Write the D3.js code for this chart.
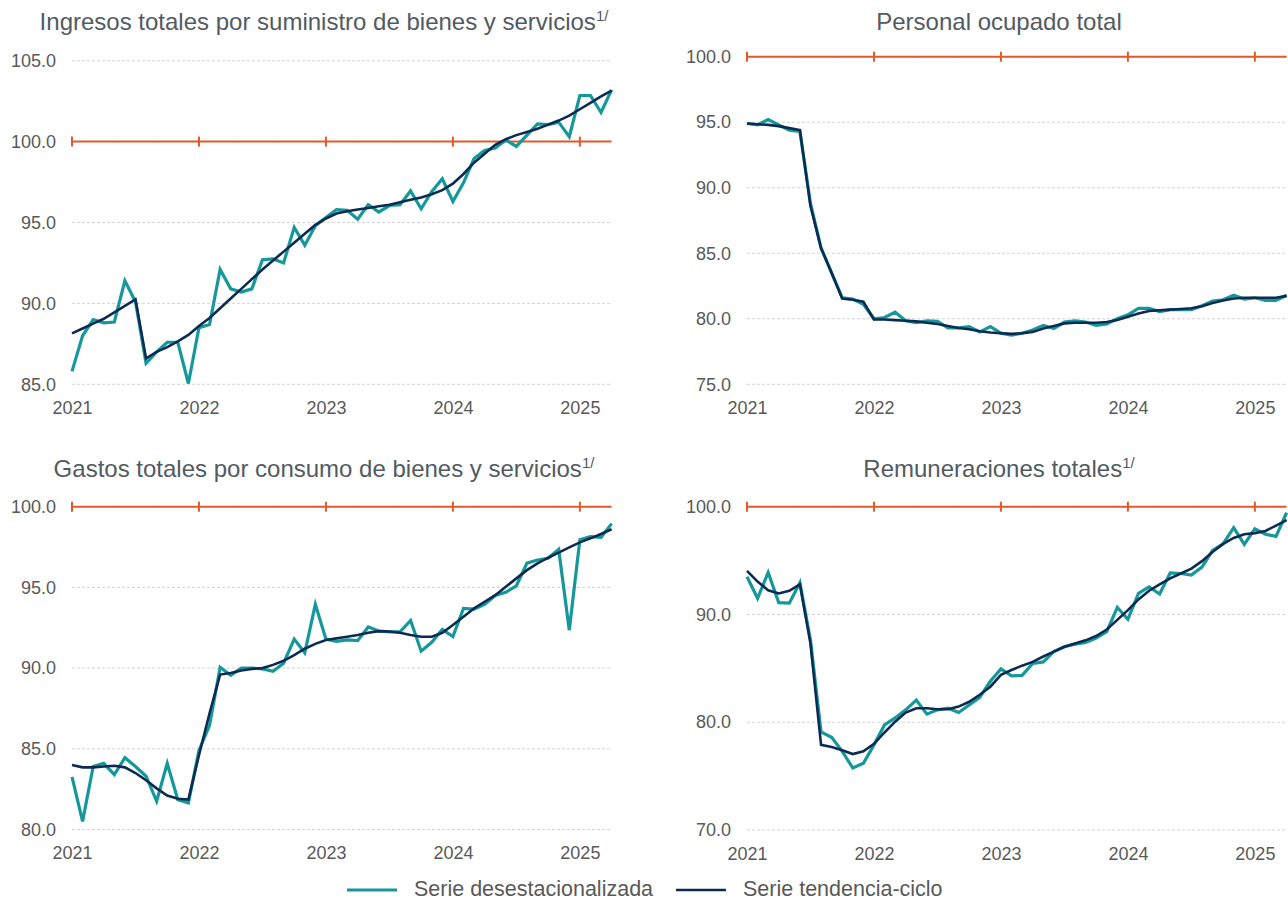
<!DOCTYPE html>
<html lang="es">
<head>
  <meta charset="UTF-8">
  <style>
    body { margin: 0; background: #ffffff; }
    svg { font-family: "Liberation Sans", Arial, sans-serif; background: #ffffff; }
    .title { font-size: 24px; fill: #525a62; text-anchor: middle; }
    .sup { font-size: 15px; }
    .axis text { font-size: 18px; fill: #595959; }
    .grid { stroke: #d4d4d4; stroke-width: 1; stroke-dasharray: 3,2; }
    .ref { stroke: #e2592a; stroke-width: 2; fill: none; }
    .des { stroke: #16989a; stroke-width: 3.2; fill: none; stroke-linejoin: miter; }
    .ten { stroke: #0b2b52; stroke-width: 2.6; fill: none; }
    .legend { font-size: 21.5px; fill: #595959; }
  </style>
</head>
<body>
<script src="https://d3js.org/d3.v7.min.js"></script>
<svg></svg>
<script>

// year labels, one every 12 months (Jan 2021 .. Apr 2025 = 52 months)
const years = ["2021", "2022", "2023", "2024", "2025"];

// Ingresos totales por suministro de bienes y servicios
const ingresosDes = [85.8, 88.0, 89.0, 88.8, 88.85, 91.4, 90.1, 86.3, 87.0, 87.6, 87.6, 85.05,
  88.5, 88.7, 92.1, 90.9, 90.7, 90.9, 92.7, 92.75, 92.5, 94.7, 93.6, 94.8,
  95.3, 95.8, 95.75, 95.2, 96.1, 95.65, 96.05, 96.1, 96.95, 95.85, 96.9, 97.7,
  96.3, 97.45, 98.95, 99.45, 99.6, 100.1, 99.7, 100.4, 101.1, 101.05, 101.2, 100.3,
  102.85, 102.85, 101.8, 103.2];
const ingresosTen = [88.15, 88.45, 88.75, 89.05, 89.45, 89.85, 90.25, 86.6, 87.0, 87.3, 87.65, 88.05,
  88.6, 89.1, 89.7, 90.3, 90.9, 91.5, 92.1, 92.65, 93.2, 93.75, 94.3, 94.85,
  95.25, 95.55, 95.7, 95.8, 95.9, 96.0, 96.1, 96.25, 96.4, 96.55, 96.75, 97.0,
  97.4, 98.0, 98.7, 99.25, 99.8, 100.15, 100.4, 100.6, 100.8, 101.05, 101.3, 101.6,
  102.0, 102.4, 102.8, 103.15];
const ingresosTicks = [85, 90, 95, 100, 105];

// Personal ocupado total
const personalDes = [94.9, 94.8, 95.2, 94.8, 94.4, 94.3, 88.8, 85.4, 83.5, 81.6, 81.5, 81.1,
  80.0, 80.1, 80.5, 79.85, 79.7, 79.85, 79.8, 79.3, 79.3, 79.4, 79.0, 79.4,
  78.9, 78.75, 78.9, 79.15, 79.5, 79.25, 79.75, 79.85, 79.75, 79.5, 79.6, 80.0,
  80.3, 80.8, 80.8, 80.55, 80.7, 80.7, 80.7, 81.0, 81.35, 81.45, 81.8, 81.5,
  81.6, 81.4, 81.4, 81.8];
const personalTen = [94.9, 94.85, 94.8, 94.7, 94.55, 94.4, 88.6, 85.4, 83.5, 81.55, 81.45, 81.3,
  79.95, 79.95, 79.9, 79.85, 79.8, 79.7, 79.6, 79.45, 79.3, 79.2, 79.05, 78.95,
  78.9, 78.85, 78.9, 79.0, 79.25, 79.45, 79.65, 79.7, 79.7, 79.7, 79.75, 79.9,
  80.15, 80.4, 80.6, 80.65, 80.7, 80.75, 80.8, 80.95, 81.2, 81.4, 81.55, 81.6,
  81.6, 81.6, 81.6, 81.75];
const personalTicks = [75, 80, 85, 90, 95, 100];

// Gastos totales por consumo de bienes y servicios
const gastosDes = [83.26, 80.5, 83.9, 84.1, 83.4, 84.45, 83.9, 83.3, 81.75, 84.1, 81.85, 81.65,
  84.9, 86.45, 90.05, 89.55, 90.0, 90.0, 89.95, 89.8, 90.3, 91.8, 90.95, 93.95,
  91.8, 91.65, 91.75, 91.7, 92.55, 92.3, 92.25, 92.25, 92.95, 91.05, 91.6, 92.4,
  91.95, 93.7, 93.65, 93.95, 94.5, 94.7, 95.1, 96.5, 96.7, 96.8, 97.35, 92.35,
  97.95, 98.15, 98.1, 98.95];
const gastosTen = [84.0, 83.85, 83.85, 83.9, 83.95, 83.85, 83.5, 83.05, 82.55, 82.1, 81.9, 81.85,
  84.6, 87.2, 89.6, 89.7, 89.85, 89.95, 90.0, 90.2, 90.45, 90.8, 91.2, 91.5,
  91.74, 91.84, 91.94, 92.05, 92.19, 92.29, 92.27, 92.19, 92.05, 91.94, 91.94, 92.19,
  92.67, 93.18, 93.7, 94.11, 94.52, 95.04, 95.56, 96.07, 96.49, 96.84, 97.15, 97.48,
  97.79, 98.04, 98.31, 98.6];
const gastosTicks = [80, 85, 90, 95, 100];

// Remuneraciones totales
const remunDes = [93.5, 91.5, 93.9, 91.1, 91.05, 92.95, 87.6, 79.1, 78.6, 77.3, 75.75, 76.2,
  77.9, 79.75, 80.4, 81.15, 82.05, 80.75, 81.15, 81.3, 80.9, 81.6, 82.3, 83.8,
  84.95, 84.3, 84.35, 85.45, 85.6, 86.55, 87.0, 87.25, 87.4, 87.8, 88.4, 90.65,
  89.55, 91.95, 92.55, 91.9, 93.85, 93.8, 93.65, 94.4, 95.95, 96.55, 98.05, 96.5,
  97.95, 97.45, 97.25, 99.45];
const remunTen = [94.05, 93.05, 92.25, 91.95, 92.2, 92.8, 87.3, 77.9, 77.7, 77.4, 77.05, 77.3,
  78.0, 79.05, 80.05, 80.9, 81.3, 81.3, 81.2, 81.2, 81.45, 81.9, 82.55, 83.3,
  84.4, 84.85, 85.25, 85.6, 86.1, 86.55, 87.0, 87.3, 87.6, 88.0, 88.6, 89.5,
  90.4, 91.4, 92.2, 92.8, 93.35, 93.8, 94.25, 94.95, 95.8, 96.55, 97.1, 97.45,
  97.55, 97.75, 98.25, 98.75];
const remunTicks = [70, 80, 90, 100];

const legendLabels = ["Serie desestacionalizada", "Serie tendencia-ciclo"];

const w = 1288;
const h = 901;
const plotW = 539.6;

const svg = d3.select("svg")
              .attr("width", w)
              .attr("height", h);

// panel layout
const panels = [
  {title: "Ingresos totales por suministro de bienes y servicios", sup: true,
   des: ingresosDes, ten: ingresosTen, ticks: ingresosTicks,
   left: 72, top: 60.7, bottom: 384.3, titleY: 30},
  {title: "Personal ocupado total", sup: false,
   des: personalDes, ten: personalTen, ticks: personalTicks,
   left: 747, top: 56.7, bottom: 384.3, titleY: 30},
  {title: "Gastos totales por consumo de bienes y servicios", sup: true,
   des: gastosDes, ten: gastosTen, ticks: gastosTicks,
   left: 72, top: 506.7, bottom: 829.5, titleY: 477},
  {title: "Remuneraciones totales", sup: true,
   des: remunDes, ten: remunTen, ticks: remunTicks,
   left: 747, top: 506.7, bottom: 830, titleY: 477}
];

panels.forEach(p => {
  const n = p.des.length;
  const x = d3.scaleLinear()
              .domain([0, n - 1])
              .range([p.left, p.left + plotW]);
  const y = d3.scaleLinear()
              .domain(d3.extent(p.ticks))
              .range([p.bottom, p.top]);
  const yearIdx = years.map((d, i) => i * 12);

  const g = svg.append("g");

  // title
  const t = g.append("text")
             .attr("class", "title")
             .attr("x", p.left + 252)
             .attr("y", p.titleY)
             .text(p.title);
  if (p.sup) {
    t.append("tspan")
     .attr("class", "sup")
     .attr("dy", -9)
     .text("1/");
  }

  // gridlines
  g.selectAll(".grid")
   .data(p.ticks)
   .enter()
   .append("line")
   .attr("class", "grid")
   .attr("x1", x(0))
   .attr("x2", x(n - 1))
   .attr("y1", d => y(d))
   .attr("y2", d => y(d));

  // y axis
  g.append("g")
   .attr("class", "axis")
   .attr("transform", `translate(${p.left},0)`)
   .call(d3.axisLeft(y).tickValues(p.ticks).tickFormat(d3.format(".1f")).tickSize(0).tickPadding(16))
   .call(a => a.select(".domain").remove());

  // x axis (years)
  g.append("g")
   .attr("class", "axis")
   .attr("transform", `translate(0,${p.bottom})`)
   .call(d3.axisBottom(x).tickValues(yearIdx).tickFormat((d, i) => years[i]).tickSize(0).tickPadding(17))
   .call(a => a.select(".domain").remove());

  // reference line at 100 with year ticks
  g.append("line")
   .attr("class", "ref")
   .attr("x1", x(0))
   .attr("x2", x(n - 1))
   .attr("y1", y(100))
   .attr("y2", y(100));
  g.selectAll(".refTick")
   .data(yearIdx)
   .enter()
   .append("line")
   .attr("class", "ref")
   .attr("x1", d => x(d))
   .attr("x2", d => x(d))
   .attr("y1", y(100) - 5)
   .attr("y2", y(100) + 5);

  const line = d3.line()
                 .x((d, i) => x(i))
                 .y(d => y(d));

  g.append("path")
   .datum(p.des)
   .attr("class", "des")
   .attr("d", line);

  g.append("path")
   .datum(p.ten)
   .attr("class", "ten")
   .attr("d", line);
});

// legend
const legend = svg.append("g");
const legendItems = [
  {label: legendLabels[0], cls: "des", x: 347, tx: 414},
  {label: legendLabels[1], cls: "ten", x: 676, tx: 743}
];
legendItems.forEach(d => {
  legend.append("line")
        .attr("class", d.cls)
        .attr("x1", d.x)
        .attr("x2", d.x + 50)
        .attr("y1", 890)
        .attr("y2", 890);
  legend.append("text")
        .attr("class", "legend")
        .attr("x", d.tx)
        .attr("y", 896)
        .text(d.label);
});

</script>
</body>
</html>
